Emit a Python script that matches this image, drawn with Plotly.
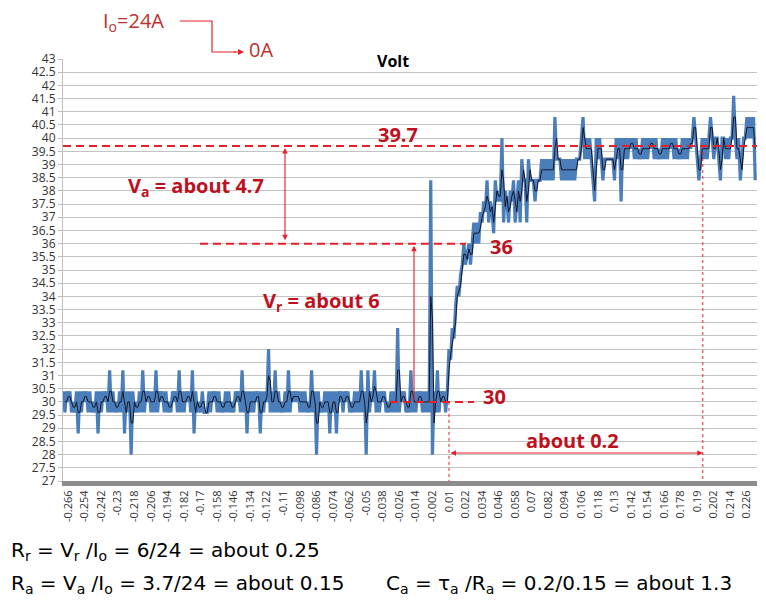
import plotly.express as px
import plotly.graph_objects as go

# ---------------- data ----------------
T0 = -0.266      # time of first category label (s)
DT = 0.0012      # sampling step used here (s)
LEAD = 3         # samples drawn before the first label

volt_low = [
    30.4, 29.6, 30.4, 30.0, 30.4, 29.6, 30.0, 29.6, 30.4, 28.8,
    30.4, 29.6, 30.4, 30.0, 30.4, 29.6, 30.4, 29.6, 30.0, 29.6,
    30.4, 28.8, 30.4, 29.6, 30.4, 30.0, 30.4, 29.6, 31.2, 29.6,
    30.4, 29.6, 30.0, 29.6, 30.4, 29.6, 31.2, 28.8, 30.4, 29.6,
    30.4, 28.0, 30.4, 29.6, 30.0, 29.6, 30.4, 29.6, 31.2, 29.6,
    30.4, 30.0, 30.4, 29.6, 30.4, 29.6, 31.2, 29.6, 30.4, 30.0,
    30.4, 29.6, 30.4, 29.6, 30.0, 29.6, 30.4, 30.0, 30.4, 29.6,
    31.2, 29.6, 30.4, 29.6, 30.4, 30.0, 30.4, 29.6, 31.2, 28.8,
    30.4, 29.6, 30.0, 29.6, 30.4, 29.6, 29.6, 29.6, 30.4, 29.6,
    30.4, 30.0, 30.4, 29.6, 30.4, 29.6, 30.0, 29.6, 30.4, 29.6,
    30.4, 29.6, 30.0, 29.6, 30.4, 30.0, 30.4, 29.6, 31.2, 29.6,
    30.4, 28.8, 30.4, 29.6, 30.4, 29.6, 30.4, 30.0, 30.4, 28.8,
    30.4, 29.6, 30.4, 30.0, 32.0, 29.6, 30.4, 29.6, 31.2, 29.6,
    30.4, 29.6, 30.0, 29.6, 30.4, 29.6, 31.2, 29.6, 30.4, 30.0,
    30.4, 30.0, 30.4, 29.6, 30.4, 29.6, 30.4, 29.6, 30.0, 29.6,
    31.2, 29.6, 30.4, 28.0, 30.4, 29.6, 30.0, 29.6, 30.4, 29.6,
    30.4, 28.8, 30.4, 29.6, 30.4, 28.8, 30.4, 30.0, 30.4, 29.6,
    30.4, 30.0, 30.4, 29.6, 30.0, 29.6, 30.4, 29.6, 30.4, 29.6,
    31.2, 29.6, 30.4, 28.0, 31.2, 29.6, 30.4, 30.0, 31.2, 29.6,
    30.4, 29.6, 30.4, 30.0, 30.4, 29.6, 30.0, 29.6, 30.4, 29.6,
    30.4, 29.6, 32.8, 29.6, 30.4, 30.0, 30.4, 29.6, 30.0, 29.6,
    31.2, 29.6, 30.4, 29.6, 30.4, 30.0, 30.4, 29.6, 30.4, 29.6,
    30.4, 29.6, 38.4, 28.0, 30.4, 29.6, 31.2, 29.6, 30.4, 30.0,
    30.4, 29.6, 30.4,
]
volt_rise = [
    32.0, 31.6, 32.8, 32.4, 33.6, 34.4, 34.0, 34.8,
    35.2, 36.0, 35.2, 35.6, 36.0, 35.2, 36.0, 36.8, 36.0, 36.8,
    36.0, 37.2, 36.8, 37.6, 37.2, 38.4, 36.8, 37.6, 37.2, 36.4,
    38.4, 37.6, 38.0, 37.6, 40.0, 36.8, 38.0, 37.6, 36.8, 38.0,
    37.6, 38.4, 36.8, 37.6, 38.4, 36.8, 39.2, 38.4, 38.4, 36.8,
    39.2, 38.4, 38.4, 38.4, 37.6, 38.4, 38.4, 38.4, 39.2, 38.4,
    39.2, 38.4, 39.2, 38.4, 39.2, 38.4, 40.8, 39.2, 39.2, 39.2,
]
volt_high = [
    38.4, 39.2, 38.4, 39.2, 38.4, 39.2, 38.4, 39.2, 38.4, 39.2,
    39.2, 39.2, 40.0, 40.8, 39.2, 40.0, 39.2, 40.0, 39.2, 38.4,
    37.6, 40.0, 39.2, 40.0, 39.2, 38.4, 39.2, 39.2, 39.2, 39.2,
    39.2, 39.2, 38.4, 40.0, 39.2, 40.0, 37.6, 40.0, 39.2, 40.0,
    39.2, 40.0, 39.6, 40.0, 39.2, 40.0, 39.2, 39.6, 39.2, 40.0,
    39.2, 40.0, 39.2, 40.0, 39.6, 40.0, 39.2, 40.0, 39.2, 39.6,
    39.2, 40.0, 39.2, 40.0, 39.2, 40.0, 39.6, 40.0, 39.2, 40.0,
    39.2, 39.6, 39.2, 40.0, 39.2, 40.0, 39.2, 40.0, 39.6, 40.0,
    40.8, 40.0, 39.2, 38.4, 39.2, 40.0, 39.2, 40.0, 39.2, 40.0,
    40.8, 40.0, 39.2, 40.0, 40.0, 39.2, 38.4, 40.0, 40.0, 39.2,
    40.0, 39.2, 40.0, 40.0, 41.6, 40.0, 39.2, 40.0, 38.4, 39.2,
    40.0, 40.0, 40.8, 40.0, 40.8, 40.0, 40.8, 38.4,
]
volt = volt_low + volt_rise + volt_high
time = [round(T0 + (i - LEAD) * DT, 5) for i in range(len(volt))]

tick_labels = [
    "-0.266", "-0.254", "-0.242", "-0.23", "-0.218", "-0.206", "-0.194",
    "-0.182", "-0.17", "-0.158", "-0.146", "-0.134", "-0.122", "-0.11",
    "-0.098", "-0.086", "-0.074", "-0.062", "-0.05", "-0.038", "-0.026",
    "-0.014", "-0.002", "0.01", "0.022", "0.034", "0.046", "0.058", "0.07",
    "0.082", "0.094", "0.106", "0.118", "0.13", "0.142", "0.154", "0.166",
    "0.178", "0.19", "0.202", "0.214", "0.226",
]
tick_values = [float(s) for s in tick_labels]

V_TOP, V_MID, V_BASE = 39.7, 36.0, 30.0
T_START, T_END = 0.01, 0.194

# ---------------- geometry helpers (layout only, page pixels) ----------------
OFF = 8                     # default body margin of the html page
W, H = 766 - OFF, 609 - OFF
L, R, T, B = 63, 757, 59, 481   # plot area in page pixels
X_RANGE = [-0.2698, 0.2333]
Y_RANGE = [27, 43]


def tx(xp):
    return X_RANGE[0] + (xp - L) / (R - L) * (X_RANGE[1] - X_RANGE[0])


def vy(yp):
    return Y_RANGE[0] + (B - yp) / (B - T) * (Y_RANGE[1] - Y_RANGE[0])


def pxp(xp):
    return (xp - L) / (R - L)


def pyp(yp):
    return (B - yp) / (B - T)


BLUE = "#4A7EBB"
RED_LINE = "#E4202A"
RED_TEXT = "#C0101E"
FONT = "Open Sans"
FONT_WIDE = "DejaVu Sans"

# ---------------- figure ----------------
fig = px.scatter(x=time, y=volt, trendline="rolling",
                 trendline_options=dict(window=2))
fig.data[0].update(mode="lines",
                   line=dict(color=BLUE, width=3.2, simplify=False),
                   showlegend=False)
fig.data[1].update(mode="lines",
                   line=dict(color="#16162A", width=1.0, simplify=False),
                   showlegend=False)

fig.update_layout(
    template="none",
    width=W, height=H,
    margin=dict(l=L - OFF, r=W - (R - OFF), t=T - OFF, b=H - (B - OFF),
                autoexpand=False),
    paper_bgcolor="white", plot_bgcolor="white",
    font=dict(family=FONT, color="#333333"),
    showlegend=False,
    xaxis=dict(range=X_RANGE, tickmode="array", tickvals=tick_values,
               ticktext=tick_labels, tickangle=-90, showgrid=False,
               zeroline=False, showline=True, linewidth=5,
               linecolor="#8C8C8C", ticks="", title=None,
               tickfont=dict(size=11, color="#333333")),
    yaxis=dict(range=Y_RANGE, dtick=0.5, tick0=27, showgrid=True,
               gridcolor="#C4C4C4", gridwidth=1, zeroline=False,
               showline=True, linecolor="#BEBEBE", linewidth=1,
               ticks="outside", ticklen=4, tickcolor="#BEBEBE",
               title=None, tickfont=dict(size=12, color="#333333")),
)

dash = "8px,5px"
shapes = [
    dict(type="line", xref="paper", yref="y", x0=0, x1=1, y0=V_TOP, y1=V_TOP,
         line=dict(color=RED_LINE, width=2, dash=dash)),
    dict(type="line", xref="x", yref="y", x0=tx(200), x1=tx(466),
         y0=V_MID, y1=V_MID, line=dict(color=RED_LINE, width=2, dash=dash)),
    dict(type="line", xref="x", yref="y", x0=tx(390), x1=tx(474),
         y0=V_BASE, y1=V_BASE, line=dict(color=RED_LINE, width=2, dash=dash)),
    dict(type="line", xref="x", yref="y", x0=T_START, x1=T_START,
         y0=V_BASE, y1=27, line=dict(color=RED_LINE, width=1, dash="dot")),
    dict(type="line", xref="x", yref="y", x0=T_END, x1=T_END,
         y0=V_TOP, y1=27, line=dict(color=RED_LINE, width=1, dash="dot")),
    dict(type="path", xref="paper", yref="paper",
         path=f"M {pxp(180)},{pyp(21)} L {pxp(212)},{pyp(21)} "
              f"L {pxp(212)},{pyp(52)} L {pxp(236)},{pyp(52)}",
         line=dict(color=RED_LINE, width=1.2)),
]
fig.update_layout(shapes=shapes)

ann = []
# title
ann.append(dict(text="<b>Volt</b>", xref="paper", yref="paper", x=pxp(393),
                y=pyp(61), showarrow=False, font=dict(size=16, color="black",
                family=FONT), xanchor="center", yanchor="middle"))
# red value labels
for txt, xp, yp in [("39.7", 398, 134), ("36", 501, 246), ("30", 494, 396),
                    ("V<sub>a</sub> = about 4.7", 196, 186),
                    ("V<sub>r</sub> = about 6", 321, 301),
                    ("about 0.2", 572, 440)]:
    ann.append(dict(text=f"<b>{txt}</b>", x=tx(xp), y=vy(yp), xref="x",
                    yref="y", showarrow=False, xanchor="center",
                    yanchor="middle",
                    font=dict(size=20, color=RED_TEXT, family=FONT)))
# arrows
ann.append(dict(text="", x=tx(285), y=V_TOP, ax=tx(285), ay=V_MID, xref="x",
                yref="y", axref="x", ayref="y", showarrow=True, arrowhead=2,
                arrowside="end+start", arrowsize=1, arrowwidth=1.1,
                arrowcolor=RED_LINE, standoff=2, startstandoff=2))
ann.append(dict(text="", x=tx(414), y=V_MID, ax=tx(414), ay=V_BASE, xref="x",
                yref="y", axref="x", ayref="y", showarrow=True, arrowhead=2,
                arrowsize=1, arrowwidth=1.1, arrowcolor=RED_LINE, standoff=2))
ann.append(dict(text="", x=T_END, y=vy(453), ax=T_START, ay=vy(453),
                xref="x", yref="y", axref="x", ayref="y", showarrow=True,
                arrowhead=2, arrowside="end+start", arrowsize=1,
                arrowwidth=1.1, arrowcolor=RED_LINE))
# current step annotation
ann.append(dict(text="I<sub>o</sub>=24A", xref="paper", yref="paper",
                x=pxp(101), y=pyp(21), xanchor="left", yanchor="middle",
                showarrow=False, font=dict(size=20, color="#C0302E",
                family=FONT)))
ann.append(dict(text="0A", xref="paper", yref="paper", x=pxp(247),
                y=pyp(50), xanchor="left", yanchor="middle", showarrow=False,
                font=dict(size=20, color="#C0302E", family=FONT)))
ann.append(dict(text="", xref="paper", yref="paper", x=pxp(244), y=pyp(52),
                ax=-12, ay=0, showarrow=True, arrowhead=2, arrowsize=1,
                arrowwidth=1.2, arrowcolor=RED_LINE))
# formulas
for txt, xp, yp in [
        ("R<sub>r</sub> = V<sub>r</sub> /I<sub>o</sub> = 6/24 = about 0.25", 9, 551),
        ("R<sub>a</sub> = V<sub>a</sub> /I<sub>o</sub> = 3.7/24 = about 0.15", 9, 584),
        ("C<sub>a</sub> = τ<sub>a</sub> /R<sub>a</sub> = 0.2/0.15 = about 1.3", 384, 584)]:
    ann.append(dict(text=txt, xref="paper", yref="paper", x=pxp(xp),
                    y=pyp(yp), xanchor="left", yanchor="middle",
                    showarrow=False, font=dict(size=20, color="black",
                    family=FONT_WIDE)))
fig.update_layout(annotations=ann)

fig.write_html("out.html")
